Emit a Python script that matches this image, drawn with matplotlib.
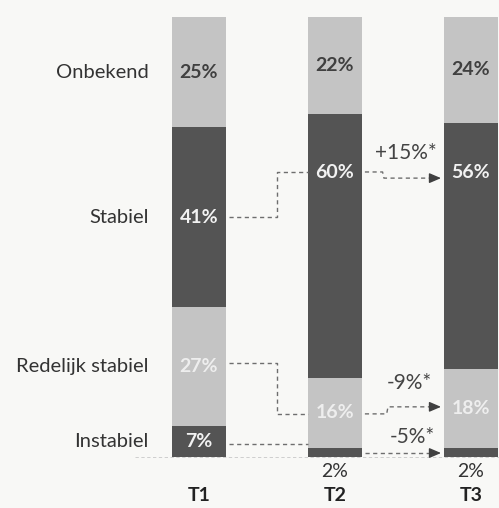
import numpy as np
import matplotlib.pyplot as plt

plt.rcParams['font.family'] = ['Lato', 'DejaVu Sans']

# data
periods = ['T1', 'T2', 'T3']
categories = ['Instabiel', 'Redelijk stabiel', 'Stabiel', 'Onbekend']
instabiel = [7, 2, 2]
redelijk = [27, 16, 18]
stabiel = [41, 60, 56]
onbekend = [25, 22, 24]
changes = ['+15%*', '-9%*', '-5%*']

series = [instabiel, redelijk, stabiel, onbekend]
colors = ['#545454', '#c4c4c4', '#545454', '#c4c4c4']

fig = plt.figure(figsize=(4.99, 5.08), dpi=100, facecolor='#f8f8f6')
ax = fig.add_axes([0, 0, 1, 1])
ax.set_facecolor('#f8f8f6')
ax.set_xlim(-1.463, 2.206)
ax.set_ylim(-11.6, 103.9)
ax.axis('off')

x = np.arange(len(periods))
w = 0.40
bottom = np.zeros(len(periods))
centers = []
for vals, col in zip(series, colors):
    ax.bar(x, vals, w, bottom=bottom, color=col, edgecolor='none')
    centers.append(bottom + np.array(vals) / 2)
    bottom = bottom + np.array(vals)

# faint baseline
ax.plot([-0.47, 2.3], [0, 0], color='#c8c8c8', lw=0.6, ls=(0, (4, 3)), zorder=0)

fs = 14
# category labels beside the first bar
for cat, c in zip(categories, centers):
    ax.text(-0.37, c[0], cat, ha='right', va='center', fontsize=14.5, color='#333333')

# label heights (Stabiel labels at T2/T3 lifted to line up with the arrow)
stab_y = [centers[2][0], 64.6, 64.6]
for i in range(len(periods)):
    ax.text(x[i], centers[3][i], f'{onbekend[i]}%', ha='center', va='center',
            fontsize=fs, color='#404040', fontweight='bold')
    ax.text(x[i], stab_y[i], f'{stabiel[i]}%', ha='center', va='center',
            fontsize=fs, color='#f2f2f2', fontweight='bold')
    ax.text(x[i], centers[1][i], f'{redelijk[i]}%', ha='center', va='center',
            fontsize=fs, color='#eeeeee', fontweight='bold')
    if instabiel[i] >= 5:
        ax.text(x[i], centers[0][i], f'{instabiel[i]}%', ha='center', va='center',
                fontsize=fs, color='#f2f2f2', fontweight='bold')
    else:
        ax.text(x[i], -3.4, f'{instabiel[i]}%', ha='center', va='center',
                fontsize=fs, color='#333333')

# period labels
for i, p in enumerate(periods):
    ax.text(x[i], -8.7, p, ha='center', va='center', fontsize=14,
            fontweight='bold', color='#222222')

# dashed connectors
lc = '#6e6e6e'
ls = (0, (3, 2.5))
left1, right1 = x[0] + w / 2, x[1] - w / 2
left2, right2 = x[1] + w / 2, x[2] - w / 2
mid = 0.574
head = dict(arrowstyle='-|>,head_length=0.7,head_width=0.3', color='#404040', lw=1)

# Stabiel
y0, y1, y2 = stab_y[0], stab_y[1] + 0.2, stab_y[2] - 1.2
ax.plot([left1 + 0.02, mid, mid, right1], [y0, y0, y1, y1], color=lc, lw=1, ls=ls)
ax.plot([left2 + 0.02, 1.35, 1.36, right2 - 0.08], [y1, y1, y2, y2], color=lc, lw=1, ls=ls)
ax.annotate('', xy=(right2, y2), xytext=(right2 - 0.09, y2), arrowprops=head)
ax.text(1.52, 69.2, changes[0], ha='center', va='center', fontsize=15, color='#444444')

# Redelijk stabiel
y0, y1, y2 = centers[1][0] + 0.9, centers[1][1] - 0.2, centers[1][2] + 0.4
ax.plot([left1 + 0.02, mid, mid, right1], [y0, y0, y1, y1], color=lc, lw=1, ls=ls)
ax.plot([left2 + 0.02, 1.38, 1.39, right2 - 0.08], [y1, y1, y2, y2], color=lc, lw=1, ls=ls)
ax.annotate('', xy=(right2, y2), xytext=(right2 - 0.09, y2), arrowprops=head)
ax.text(1.55, 16.9, changes[1], ha='center', va='center', fontsize=15, color='#444444')

# Instabiel
y0, y2 = 3.0, 0.9
ax.plot([left1 + 0.02, right1], [y0, y0], color=lc, lw=1, ls=ls)
ax.plot([left2 + 0.02, right2 - 0.08], [y2, y2], color=lc, lw=1, ls=ls)
ax.annotate('', xy=(right2, y2), xytext=(right2 - 0.09, y2), arrowprops=head)
ax.text(1.57, 4.6, changes[2], ha='center', va='center', fontsize=15, color='#444444')

fig.savefig('out.png', dpi=100, facecolor=fig.get_facecolor())
